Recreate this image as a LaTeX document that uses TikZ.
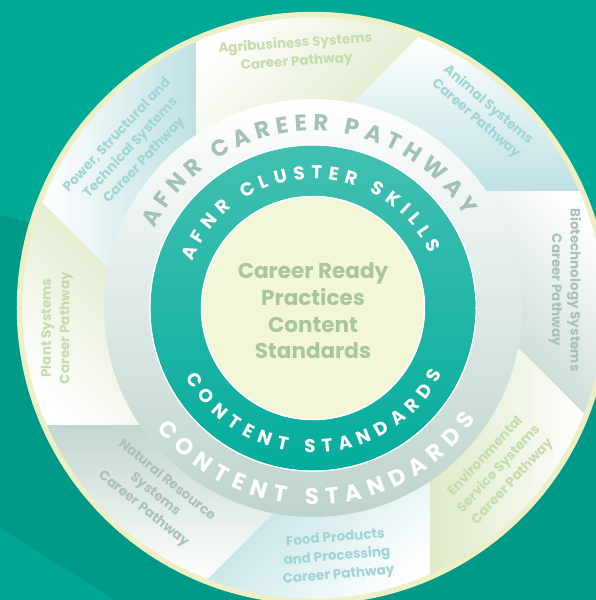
\documentclass[tikz,border=0pt]{standalone}
\usepackage{fontspec}
\setmainfont{Poppins}
\definecolor{bg-teal}{RGB}{0,168,150}
\definecolor{bg-dark}{RGB}{0,152,135}
\definecolor{bg-light}{RGB}{0,165,149}
\definecolor{rim}{RGB}{236,240,196}
\definecolor{tint-blue}{RGB}{190,225,227}
\definecolor{tint-green}{RGB}{222,234,200}
\definecolor{tint-grey}{RGB}{194,214,207}
\definecolor{txt-blue}{RGB}{160,212,214}
\definecolor{txt-green}{RGB}{198,220,172}
\definecolor{txt-grey}{RGB}{168,194,184}
\definecolor{ring-grey}{RGB}{188,211,203}
\definecolor{ring-text}{RGB}{163,194,181}
\definecolor{cl-top}{RGB}{66,192,178}
\definecolor{cl-bottom}{RGB}{4,172,156}
\definecolor{core}{RGB}{244,246,216}
\definecolor{core-text}{RGB}{168,198,160}
\usetikzlibrary{
  decorations.text   % letters along the rings
}
\newcommand{\pathwayfont}{\fontsize{13.5}{18.5}\selectfont\bfseries}
\newcommand{\corefont}{\fontsize{21.5}{26.7}\selectfont\bfseries}
\newcommand{\clusterfont}{\fontsize{18.5}{18.5}\selectfont\bfseries}
\newcommand{\careerfont}{\fontsize{23}{23}\selectfont\bfseries}
\tikzset{
  x=1pt, y=1pt,
  pathway/.style = {font=\pathwayfont, align=center, inner sep=0pt},
  blue-pw/.append style = {pathway, text=txt-blue},
  green-pw/.append style = {pathway, text=txt-green},
  grey-pw/.append style = {pathway, text=txt-grey}
}

\begin{document}
\begin{tikzpicture}

  \useasboundingbox (-313,-292) rectangle (283,308);
  \clip (-313,-292) rectangle (283,308);

  %% backdrop
  \fill[bg-teal] (-313,-292) rectangle (283,308);
  \fill[bg-dark] (-313,93) -- (283,-72) -- (283,-292) -- (-313,-292) -- cycle;
  \fill[bg-light] (-313,-220) -- (-198,-292) -- (-313,-292) -- cycle;

  %% pathway sectors
  \fill[white] (0,0) circle (292);
  \foreach \s/\tint [evaluate=\s as \rot using \s-135,
                     evaluate=\s as \ia using \s-55.2,
                     evaluate=\s as \oa using \s-66.4,
                     evaluate=\s as \ob using \s-111.4,
                     evaluate=\s as \ib using \s-100.2]
    in {225/tint-blue, 180/tint-green, 135/tint-blue, 90/tint-grey,
        45/tint-green, 0/tint-blue, -45/tint-grey, -90/tint-green}
  {
    \shade[top color=white, bottom color=\tint, shading angle=\rot]
      (\ia:205) -- (\oa:292) arc[start angle=\oa, end angle=\ob, radius=292]
      -- (\ib:205) arc[start angle=\ib, end angle=\ia, radius=205] -- cycle;
  }
  \draw[rim, line width=5.5] (0,0) circle (293.5);

  %% rings
  \shade[even odd rule, top color=white, bottom color=ring-grey]
    (0,0) circle (209) (0,0) circle (163);
  \shade[even odd rule, top color=cl-top, bottom color=cl-bottom]
    (0,0) circle (162.5) (0,0) circle (112);
  \draw[white, line width=1.2] (0,0) circle (163.2);
  \fill[core] (0,0) circle (111);
  \draw[white, line width=1.5] (0,0) circle (111.5);

  %% ring texts
  \path[decorate, decoration={text along path, text align=fit to path,
        text color=white, text={|\clusterfont|AFNR CLUSTER SKILLS}}]
    (159:129) arc[start angle=159, end angle=25, radius=129];
  \path[decorate, decoration={text along path, text align=fit to path,
        text color=white, text={|\clusterfont|CONTENT STANDARDS}}]
    (208.5:145) arc[start angle=208.5, end angle=333, radius=145];
  \path[decorate, decoration={text along path, text align=fit to path,
        text color=ring-text, text={|\careerfont|AFNR CAREER PATHWAY}}]
    (153.5:177) arc[start angle=153.5, end angle=31, radius=177];
  \path[decorate, decoration={text along path, text align=fit to path,
        text color=white, text={|\careerfont|CONTENT STANDARDS}}]
    (217.5:197) arc[start angle=217.5, end angle=325.5, radius=197];

  %% labels
  \node[font=\corefont, text=core-text, align=center] (core) at (0,-3)
    {Career Ready\\Practices\\Content\\Standards};

  \node[green-pw, rotate=4] (agri) at (-17,255) {Agribusiness Systems\\Career Pathway};
  \node[blue-pw, rotate=-41] (animal) at (169,196) {Animal Systems\\Career Pathway};
  \node[grey-pw, rotate=-90] (biotech) at (252,18) {Biotechnology Systems\\Career Pathway};
  \node[green-pw, rotate=47] (env) at (186,-161) {Environmental\\Service Systems\\Career Pathway};
  \node[blue-pw, rotate=5] (food) at (24,-249) {Food Products\\and Processing\\Career Pathway};
  \node[grey-pw, rotate=-39] (natural) at (-158,-187) {Natural Resource\\Systems\\Career Pathway};
  \node[green-pw, rotate=90] (plant) at (-256,-20) {Plant Systems\\Career Pathway};
  \node[blue-pw, rotate=47] (power) at (-182,160) {Power, Structural and\\Technical Systems\\Career Pathway};

\end{tikzpicture}
\end{document}
